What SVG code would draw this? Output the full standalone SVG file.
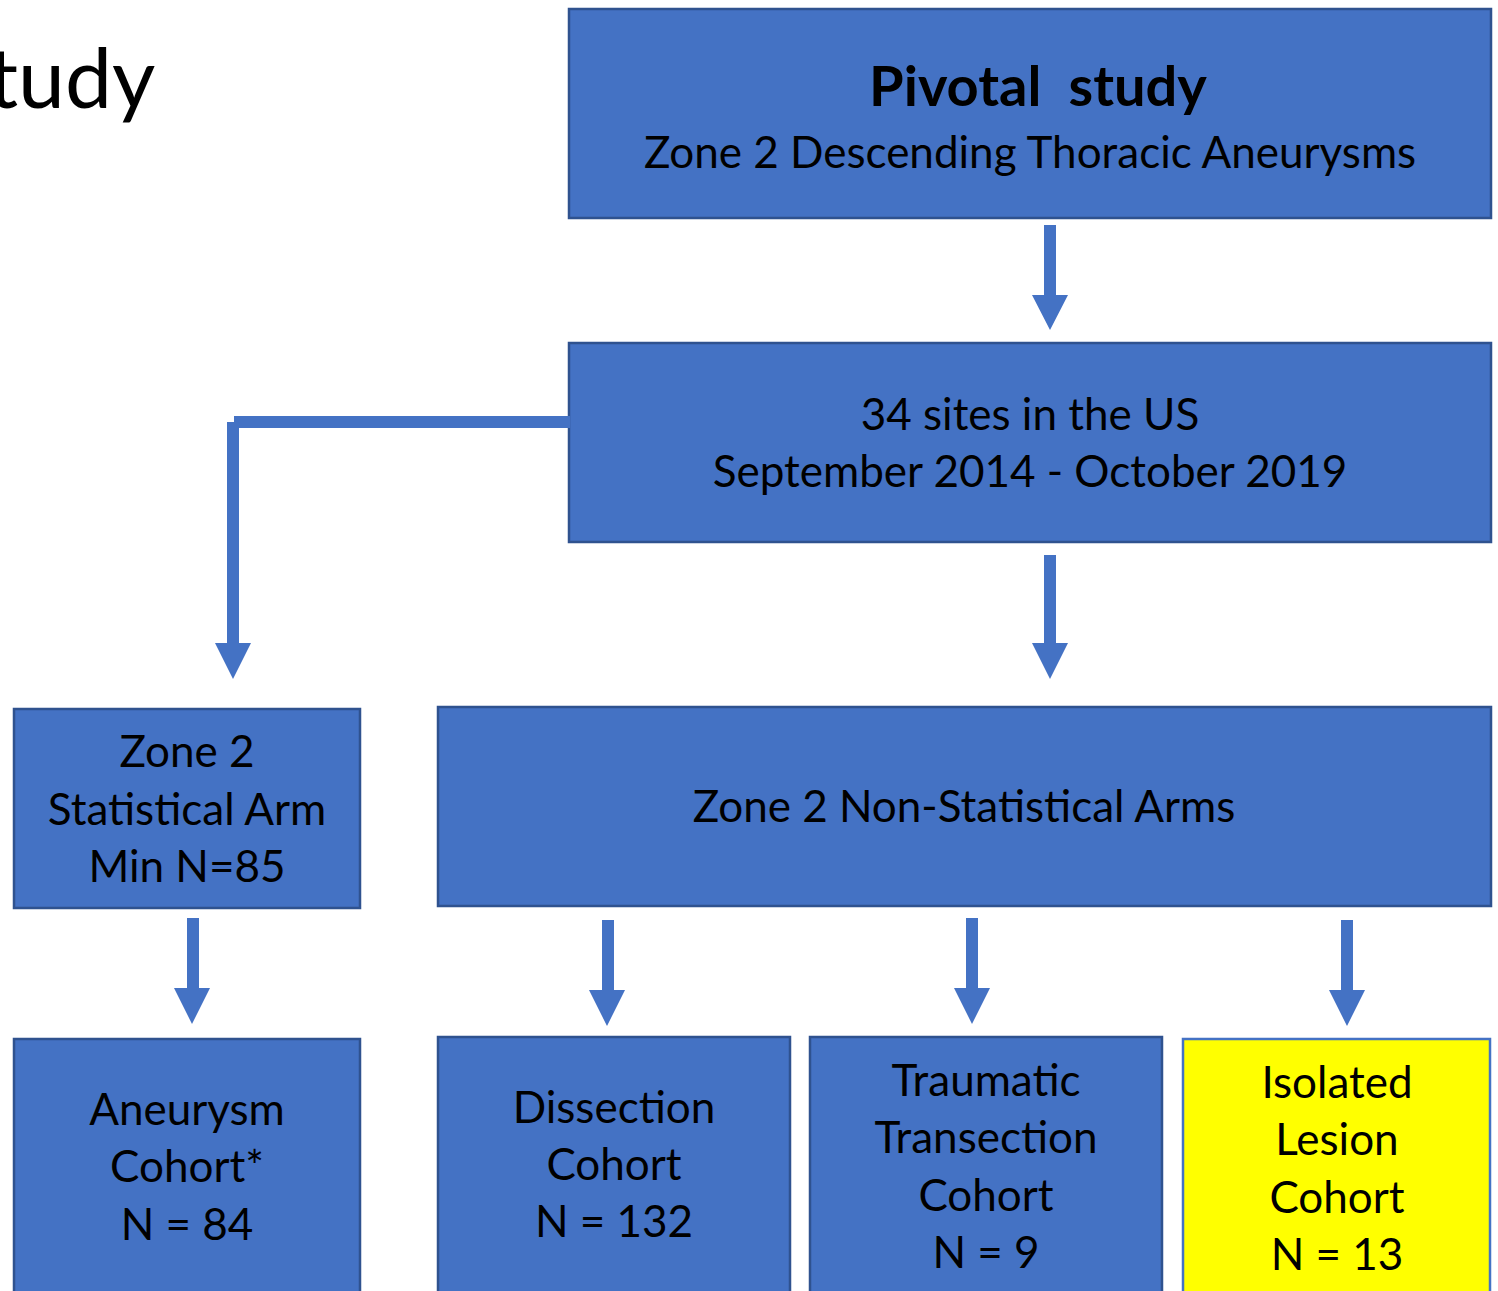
<svg xmlns="http://www.w3.org/2000/svg" width="1498" height="1291" viewBox="0 0 1498 1291">
<style>
.box{fill:#4472C4;stroke:#2F528F;stroke-width:2.5}
.ybox{fill:#FFFF00;stroke:#4472C4;stroke-width:2.5}
.t{font-family:Lato,"Liberation Sans",sans-serif;font-size:44px;fill:#000;text-anchor:middle}
.b{font-weight:bold;font-size:56px;white-space:pre}
.arr{fill:#4472C4}
</style>
<rect width="1498" height="1291" fill="#fff"/>
<text x="-12" y="108" style="font-family:Lato,'Liberation Sans',sans-serif;font-size:84px;fill:#000">tudy</text>
<g id="n1"><rect class="box" x="569" y="9" width="922" height="209"/>
<text class="t b" x="1038" y="106" xml:space="preserve">Pivotal  study</text>
<text class="t" x="1030" y="168">Zone 2 Descending Thoracic Aneurysms</text></g>
<g id="n2"><rect class="box" x="569" y="343" width="922" height="199"/>
<text class="t" x="1030" y="430">34 sites in the US</text>
<text class="t" x="1030" y="487">September 2014 - October 2019</text></g>
<g id="n3"><rect class="box" x="14" y="709" width="346" height="199"/>
<text class="t" x="187" y="767">Zone 2</text>
<text class="t" x="187" y="825">Statistical Arm</text>
<text class="t" x="187" y="882">Min N=85</text></g>
<g id="n4"><rect class="box" x="438" y="707" width="1053" height="199"/>
<text class="t" x="964" y="822">Zone 2 Non-Statistical Arms</text></g>
<g id="n5"><rect class="box" x="14" y="1039" width="346" height="270"/>
<text class="t" x="187" y="1125">Aneurysm</text>
<text class="t" x="187" y="1182">Cohort*</text>
<text class="t" x="187" y="1240">N = 84</text></g>
<g id="n6"><rect class="box" x="438" y="1037" width="352" height="270"/>
<text class="t" x="614" y="1123">Dissection</text>
<text class="t" x="614" y="1180">Cohort</text>
<text class="t" x="614" y="1237">N = 132</text></g>
<g id="n7"><rect class="box" x="810" y="1037" width="352" height="270"/>
<text class="t" x="986" y="1096">Traumatic</text>
<text class="t" x="986" y="1153">Transection</text>
<text class="t" x="986" y="1211">Cohort</text>
<text class="t" x="986" y="1268">N = 9</text></g>
<g id="n8"><rect class="ybox" x="1183" y="1039" width="307" height="270"/>
<text class="t" x="1337" y="1098">Isolated</text>
<text class="t" x="1337" y="1155">Lesion</text>
<text class="t" x="1337" y="1213">Cohort</text>
<text class="t" x="1337" y="1270">N = 13</text></g>
<g id="connectors">
<path class="arr" d="M1044 225H1056V295H1068L1050 330L1032 295H1044Z"/>
<path class="arr" d="M1044 555H1056V643H1068L1050 679L1032 643H1044Z"/>
<path class="arr" d="M234 416H570V428H239V643H251L233 679L215 643H227V422H234Z"/>
<path class="arr" d="M187 918H199V988H210L192 1024L174 988H187Z"/>
<path class="arr" d="M602 920H614V990H625L607 1026L589 990H602Z"/>
<path class="arr" d="M966 918H978V988H990L972 1024L954 988H966Z"/>
<path class="arr" d="M1341 920H1353V990H1365L1347 1026L1329 990H1341Z"/>
</g>
</svg>
